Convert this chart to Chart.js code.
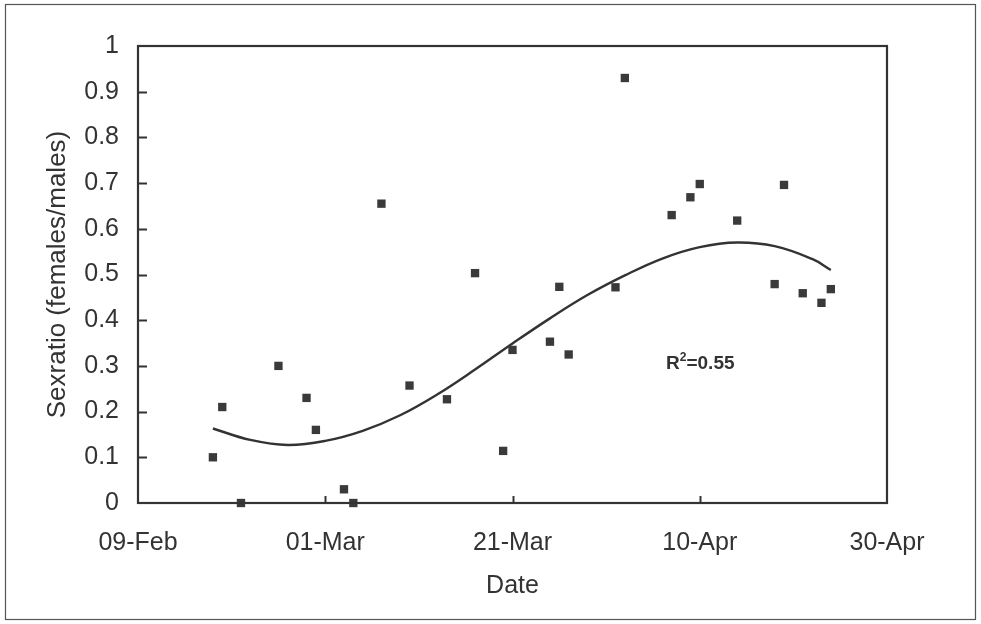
<!DOCTYPE html>
<html>
<head>
<meta charset="utf-8">
<script src="https://cdn.jsdelivr.net/npm/chart.js@4/dist/chart.umd.min.js"></script>
<style>
  html, body { margin: 0; padding: 0; background: #ffffff; }
  #wrap { width: 981px; height: 624px; position: relative; }
</style>
</head>
<body>
<div id="wrap"><canvas id="c" width="981" height="624"></canvas></div>
<script>
// Sampling dates (MM-DD) and the observed sex ratio on each date
const sampleDates = [
  '02-17', '02-18', '02-20', '02-24', '02-27', '02-28', '03-03', '03-04',
  '03-07', '03-10', '03-14', '03-17', '03-20', '03-21', '03-25', '03-26',
  '03-27', '04-01', '04-02', '04-07', '04-09', '04-10', '04-14', '04-18',
  '04-19', '04-21', '04-23', '04-24'
];
const sexRatio = [
  0.10, 0.21, 0.00, 0.30, 0.23, 0.16, 0.03, 0.00,
  0.655, 0.257, 0.227, 0.503, 0.114, 0.335, 0.353, 0.473,
  0.325, 0.472, 0.93, 0.63, 0.669, 0.698, 0.618, 0.479,
  0.696, 0.459, 0.438, 0.468
];

// Polynomial trend line through the season
const trendDates = [
  '02-17', '02-21', '02-25', '03-01', '03-05', '03-09', '03-13', '03-17', '03-21',
  '03-25', '03-29', '04-02', '04-06', '04-10', '04-14', '04-18', '04-22', '04-24'
];
const trendValues = [
  0.163, 0.138, 0.127, 0.136, 0.158, 0.192, 0.238, 0.292, 0.349,
  0.404, 0.455, 0.498, 0.535, 0.560, 0.570, 0.562, 0.534, 0.510
];

const xTickLabels = ['09-Feb', '01-Mar', '21-Mar', '10-Apr', '30-Apr'];
const yTickLabels = ['0', '0.1', '0.2', '0.3', '0.4', '0.5', '0.6', '0.7', '0.8', '0.9', '1'];
const fitLabel = 'R²=0.55';
const fitLabelAt = { day: 56.4, value: 0.293 };

// Days counted from the first axis date (09-Feb)
function dayOffset(md) {
  const [m, d] = md.split('-').map(Number);
  return Math.round((Date.UTC(2001, m - 1, d) - Date.UTC(2001, 1, 9)) / 86400000);
}

const points = sampleDates.map((d, i) => ({ x: dayOffset(d), y: sexRatio[i] }));
const trend = trendDates.map((d, i) => ({ x: dayOffset(d), y: trendValues[i] }));

const ink = '#333333';
const fontFamily = '"Liberation Sans", Arial, Helvetica, sans-serif';

// Frame, plot box, inward tick marks and the R² note
const decorations = {
  id: 'decorations',
  beforeDraw(chart) {
    const ctx = chart.ctx;
    ctx.save();
    ctx.strokeStyle = '#555555';
    ctx.lineWidth = 1.2;
    ctx.strokeRect(5.5, 4.5, 970, 615);
    ctx.restore();
  },
  afterDraw(chart) {
    const ctx = chart.ctx;
    const a = chart.chartArea;
    const xs = chart.scales.x, ys = chart.scales.y;
    ctx.save();
    ctx.strokeStyle = ink;
    ctx.lineWidth = 2.2;
    ctx.strokeRect(a.left, a.top, a.right - a.left, a.bottom - a.top);
    ctx.lineWidth = 2;
    ys.ticks.forEach(t => {
      if (t.value <= ys.min || t.value >= ys.max) return;
      const py = Math.round(ys.getPixelForValue(t.value)) + 0.5;
      ctx.beginPath();
      ctx.moveTo(a.left, py);
      ctx.lineTo(a.left + 9, py);
      ctx.stroke();
    });
    xs.ticks.forEach(t => {
      if (t.value <= xs.min || t.value >= xs.max) return;
      const px = Math.round(xs.getPixelForValue(t.value)) + 0.5;
      ctx.beginPath();
      ctx.moveTo(px, a.bottom);
      ctx.lineTo(px, a.bottom - 7);
      ctx.stroke();
    });
    // R² annotation anchored to data coordinates
    const lx = xs.getPixelForValue(fitLabelAt.day);
    const ly = ys.getPixelForValue(fitLabelAt.value);
    ctx.fillStyle = ink;
    ctx.textBaseline = 'alphabetic';
    ctx.textAlign = 'left';
    ctx.font = 'bold 19px ' + fontFamily;
    ctx.fillText('R', lx, ly);
    const rw = ctx.measureText('R').width;
    ctx.font = 'bold 12px ' + fontFamily;
    ctx.fillText('2', lx + rw, ly - 8);
    const sw = ctx.measureText('2').width;
    ctx.font = 'bold 19px ' + fontFamily;
    ctx.fillText(fitLabel.slice(2), lx + rw + sw, ly);
    ctx.restore();
  }
};

new Chart(document.getElementById('c'), {
  type: 'scatter',
  data: {
    datasets: [
      {
        label: 'Sex ratio',
        data: points,
        pointStyle: 'rect',
        pointRadius: 5.9,
        pointHoverRadius: 5.9,
        backgroundColor: '#3a3a3a',
        borderColor: '#3a3a3a',
        borderWidth: 0,
        showLine: false,
        clip: false
      },
      {
        label: 'Trend',
        type: 'line',
        data: trend,
        borderColor: ink,
        borderWidth: 2.4,
        pointRadius: 0,
        fill: false,
        tension: 0.4,
        clip: false
      }
    ]
  },
  plugins: [decorations],
  options: {
    responsive: false,
    animation: false,
    events: [],
    layout: { padding: { top: 46, right: 94, left: 0, bottom: 0 } },
    plugins: {
      legend: { display: false },
      tooltip: { enabled: false }
    },
    scales: {
      x: {
        type: 'linear',
        min: 0,
        max: 80,
        afterFit(scale) { scale.height = 121; },
        afterBuildTicks(scale) {
          scale.ticks = xTickLabels.map((_, i) => ({ value: i * 20 }));
        },
        ticks: {
          color: ink,
          font: { family: fontFamily, size: 25 },
          padding: 25,
          maxRotation: 0,
          autoSkip: false,
          callback: (v) => xTickLabels[Math.round(v / 20)]
        },
        grid: { display: false, drawTicks: false },
        border: { display: false },
        title: {
          display: true,
          text: 'Date',
          color: ink,
          font: { family: fontFamily, size: 25 },
          padding: { top: 0, bottom: 23 }
        }
      },
      y: {
        min: 0,
        max: 1,
        afterFit(scale) { scale.width = 138; },
        afterBuildTicks(scale) {
          scale.ticks = yTickLabels.map((_, i) => ({ value: i / 10 }));
        },
        ticks: {
          color: ink,
          font: { family: fontFamily, size: 25 },
          padding: 19,
          callback: (v) => yTickLabels[Math.round(v * 10)]
        },
        grid: { display: false, drawTicks: false },
        border: { display: false },
        title: {
          display: true,
          text: 'Sexratio (females/males)',
          color: ink,
          font: { family: fontFamily, size: 26 },
          padding: { top: 42, bottom: 0 }
        }
      }
    }
  }
});
</script>
</body>
</html>
